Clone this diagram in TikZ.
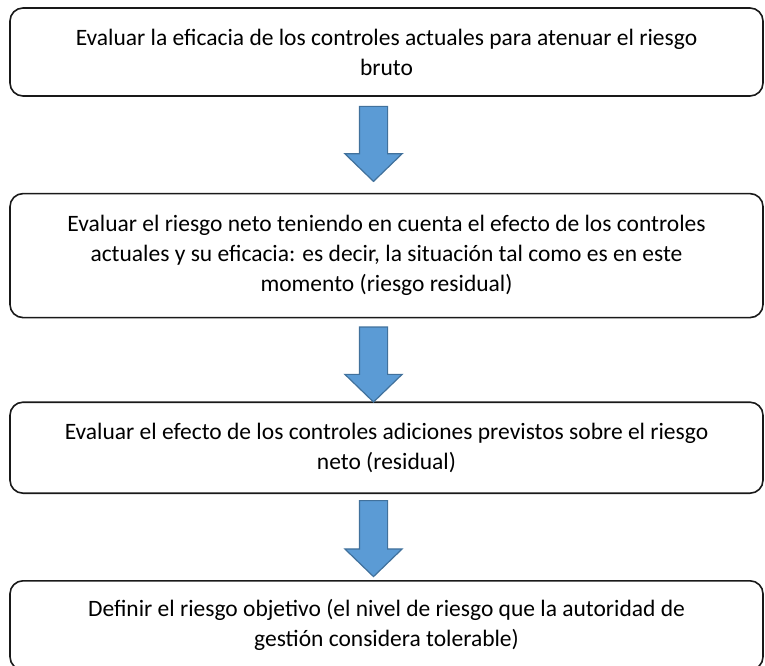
\documentclass[tikz,border=0pt]{standalone}
\usepackage{fontspec}
\setmainfont{Carlito}
\usepackage{tikz}
\usetikzlibrary{positioning, shapes.arrows}
\definecolor{colorFlecha}{HTML}{5B9BD5}
\definecolor{colorBordeFlecha}{HTML}{41719C}
\tikzset{
  paso/.style={draw=black!90, line width=1.6pt, rounded corners=13pt, minimum width=753pt,
    align=center, font=\fontsize{23.5}{30}\selectfont, inner sep=0pt},
  flecha/.style={single arrow, draw=colorBordeFlecha, fill=colorFlecha, line width=1.2pt,
    rotate=-90, anchor=tail, inner sep=13.5pt, minimum width=56pt,
    single arrow head extend=14.5pt, single arrow tip angle=92}
}
\begin{document}
\begin{tikzpicture}[x=1pt, y=1pt]
\useasboundingbox (0,0) rectangle (765,-666);
\node[paso, minimum height=88pt] (p1) at (386.5,-52) {Evaluar la eficacia de los controles actuales para atenuar el riesgo\\bruto};
\node[paso, minimum height=124pt, below=96pt of p1] (p2) {Evaluar el riesgo neto teniendo en cuenta el efecto de los controles\\actuales y su eficacia: es decir, la situación tal como es en este\\momento (riesgo residual)};
\node[paso, minimum height=91pt, below=83pt of p2] (p3) {Evaluar el efecto de los controles adiciones previstos sobre el riesgo\\neto (residual)};
\node[paso, minimum height=89pt, below=86pt of p3] (p4) {Definir el riesgo objetivo (el nivel de riesgo que la autoridad de\\gestión considera tolerable)};
% flechas entre pasos
\node[flecha, minimum height=75pt] (f1) at ([xshift=-13pt, yshift=-9pt]p1.south) {};
\node[flecha, minimum height=75pt] (f2) at ([xshift=-13pt, yshift=-8pt]p2.south) {};
\node[flecha, minimum height=76pt] (f3) at ([xshift=-13pt, yshift=-6pt]p3.south) {};
\end{tikzpicture}
\end{document}
